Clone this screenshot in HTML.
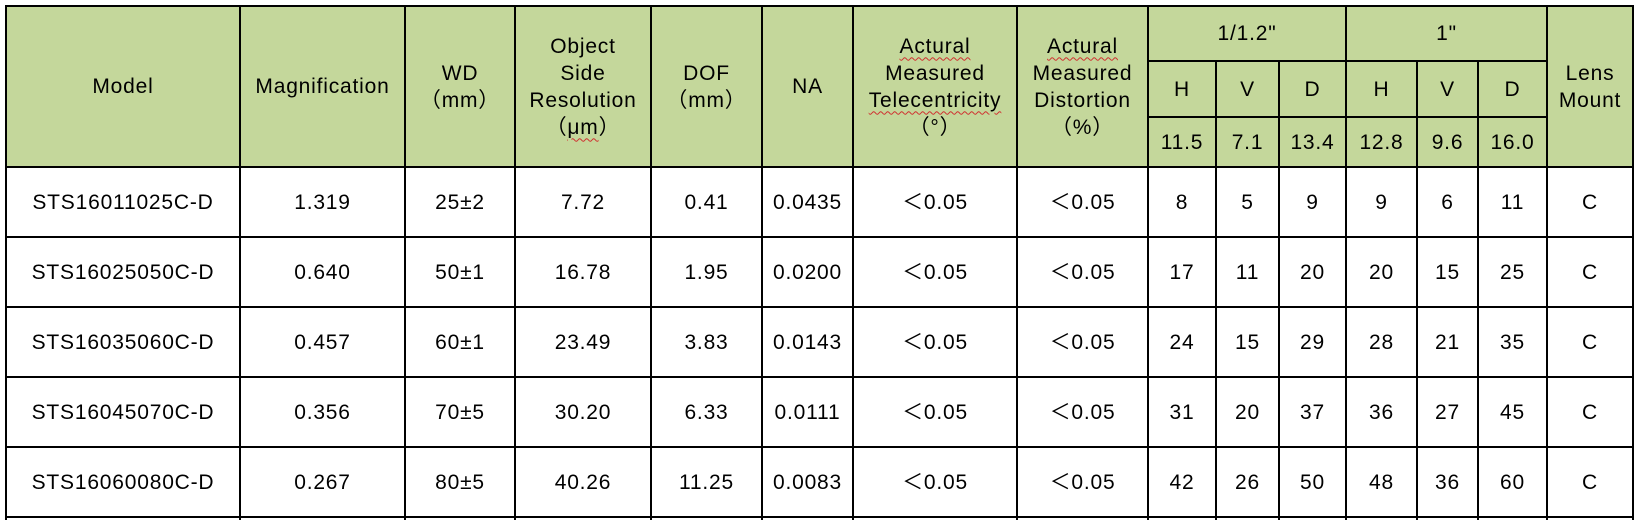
<!DOCTYPE html>
<html><head><meta charset="utf-8">
<style>
html,body{margin:0;padding:0;background:#fff;width:1636px;height:519px;overflow:hidden}
table{position:absolute;left:5px;top:5px;border-collapse:collapse;table-layout:fixed;font-family:"Liberation Sans","Noto Sans CJK SC",sans-serif;font-size:21px;letter-spacing:0.8px;color:#000}
td,th{border:2px solid #000;text-align:center;vertical-align:middle;padding:0;font-weight:normal;overflow:hidden;white-space:nowrap;line-height:27px}
thead th{background:#c4d79b}
.w{text-decoration:underline wavy #d03030;text-decoration-thickness:1px;text-underline-offset:4px}
tbody tr{height:70px}
tbody tr.p{height:2px}
tbody tr.p td{border-bottom:none;line-height:0;height:2px}
</style></head><body>
<table>
<colgroup>
<col style="width:234px"><col style="width:165px"><col style="width:110px"><col style="width:136px"><col style="width:111px"><col style="width:91px"><col style="width:164px"><col style="width:131px"><col style="width:68px"><col style="width:63px"><col style="width:67px"><col style="width:71px"><col style="width:61px"><col style="width:69px"><col style="width:86px">
</colgroup>
<thead>
<tr style="height:55px">
<th rowspan="3">Model</th>
<th rowspan="3">Magnification</th>
<th rowspan="3">WD<br>（mm）</th>
<th rowspan="3">Object<br>Side<br>Resolution<br>（<span class="w">μm</span>）</th>
<th rowspan="3">DOF<br>（mm）</th>
<th rowspan="3">NA</th>
<th rowspan="3"><span class="w">Actural</span><br>Measured<br><span class="w">Telecentricity</span><br>（°）</th>
<th rowspan="3"><span class="w">Actural</span><br>Measured<br>Distortion<br>（%）</th>
<th colspan="3">1/1.2"</th>
<th colspan="3">1"</th>
<th rowspan="3">Lens<br>Mount</th>
</tr>
<tr style="height:56px">
<th>H</th><th>V</th><th>D</th>
<th>H</th><th>V</th><th>D</th>
</tr>
<tr style="height:50px">
<th>11.5</th><th>7.1</th><th>13.4</th>
<th>12.8</th><th>9.6</th><th>16.0</th>
</tr>
</thead>
<tbody>
<tr><td>STS16011025C-D</td><td>1.319</td><td>25±2</td><td>7.72</td><td>0.41</td><td>0.0435</td><td>＜0.05</td><td>＜0.05</td><td>8</td><td>5</td><td>9</td><td>9</td><td>6</td><td>11</td><td>C</td></tr>
<tr><td>STS16025050C-D</td><td>0.640</td><td>50±1</td><td>16.78</td><td>1.95</td><td>0.0200</td><td>＜0.05</td><td>＜0.05</td><td>17</td><td>11</td><td>20</td><td>20</td><td>15</td><td>25</td><td>C</td></tr>
<tr><td>STS16035060C-D</td><td>0.457</td><td>60±1</td><td>23.49</td><td>3.83</td><td>0.0143</td><td>＜0.05</td><td>＜0.05</td><td>24</td><td>15</td><td>29</td><td>28</td><td>21</td><td>35</td><td>C</td></tr>
<tr><td>STS16045070C-D</td><td>0.356</td><td>70±5</td><td>30.20</td><td>6.33</td><td>0.0111</td><td>＜0.05</td><td>＜0.05</td><td>31</td><td>20</td><td>37</td><td>36</td><td>27</td><td>45</td><td>C</td></tr>
<tr><td>STS16060080C-D</td><td>0.267</td><td>80±5</td><td>40.26</td><td>11.25</td><td>0.0083</td><td>＜0.05</td><td>＜0.05</td><td>42</td><td>26</td><td>50</td><td>48</td><td>36</td><td>60</td><td>C</td></tr>
<tr class="p"><td></td><td></td><td></td><td></td><td></td><td></td><td></td><td></td><td></td><td></td><td></td><td></td><td></td><td></td><td></td></tr>
</tbody>
</table>
</body></html>
